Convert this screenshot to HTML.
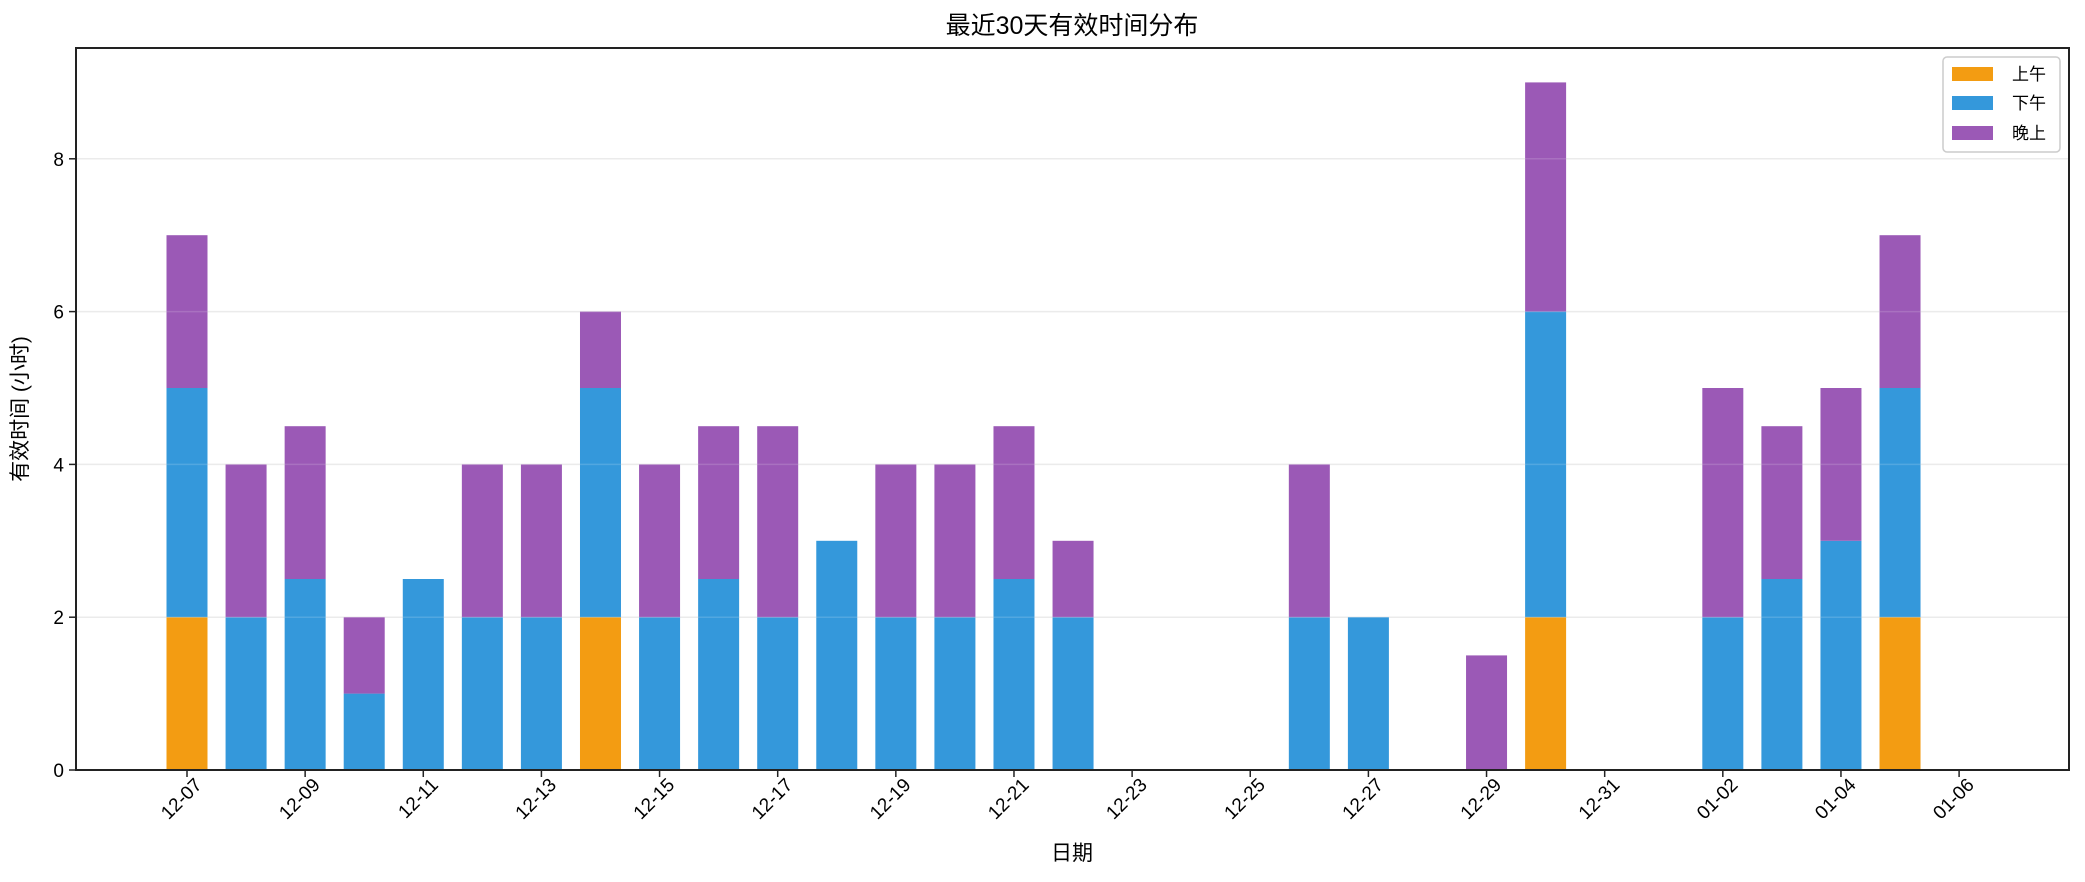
<!DOCTYPE html>
<html><head><meta charset="utf-8"><style>
html,body{margin:0;padding:0;background:#fff;}
svg{display:block;font-family:"Liberation Sans","Noto Sans CJK SC",sans-serif;}
</style></head><body>
<svg id="chart" width="2085" height="882" viewBox="0 0 2085 882">
<rect width="2085" height="882" fill="#fff"/>
<text x="1072" y="34" font-size="25" text-anchor="middle" fill="#000">最近30天有效时间分布</text>
<g id="grid"></g>
<g id="bars"></g>
<g id="gridtop"></g>
<rect x="76" y="48" width="1993" height="722" fill="none" stroke="#222" stroke-width="2"/>
<g id="axes"></g>
<text transform="translate(27,409) rotate(-90)" font-size="21" text-anchor="middle" fill="#000">有效时间 (小时)</text>
<text x="1072" y="860" font-size="21" text-anchor="middle" fill="#000">日期</text>
<g>
<rect x="1943" y="57" width="117" height="95" rx="4" fill="#fff" fill-opacity="0.8" stroke="#ccc" stroke-width="1.5"/>
<rect x="1952" y="67" width="41" height="14" fill="#f39c12"/>
<text x="2012" y="80" font-size="17">上午</text>
<rect x="1952" y="96" width="41" height="14" fill="#3498db"/>
<text x="2012" y="109" font-size="17">下午</text>
<rect x="1952" y="126" width="41" height="14" fill="#9b59b6"/>
<text x="2012" y="139" font-size="17">晚上</text>
</g>
</svg>
<script>
const dates = ["12-07","12-08","12-09","12-10","12-11","12-12","12-13","12-14","12-15","12-16","12-17","12-18","12-19","12-20","12-21","12-22","12-23","12-24","12-25","12-26","12-27","12-28","12-29","12-30","12-31","01-01","01-02","01-03","01-04","01-05"];
const morning   = [2,0,0,0,0,0,0,2,0,0,0,0,0,0,0,0,0,0,0,0,0,0,0,2,0,0,0,0,0,2];
const afternoon = [3,2,2.5,1,2.5,2,2,3,2,2.5,2,3,2,2,2.5,2,0,0,0,2,2,0,0,4,0,0,2,2.5,3,3];
const evening   = [2,2,2,1,0,2,2,1,2,2,2.5,0,2,2,2,1,0,0,0,2,0,0,1.5,3,0,0,3,2,2,2];
const yTicks = [0,2,4,6,8];
const xTickLabels = ["12-07","12-09","12-11","12-13","12-15","12-17","12-19","12-21","12-23","12-25","12-27","12-29","12-31","01-02","01-04","01-06"];
const xTickDays = [0,2,4,6,8,10,12,14,16,18,20,22,24,26,28,30];

const NS="http://www.w3.org/2000/svg";
const x0=187, dayW=59.07, y0=770, unit=76.4, barW=41;
function xs(d){return x0+d*dayW;}
function ys(v){return y0-v*unit;}
function mk(tag,attrs,parent){const e=document.createElementNS(NS,tag);for(const k in attrs)e.setAttribute(k,attrs[k]);parent.appendChild(e);return e;}
const grid=document.getElementById('grid'),bars=document.getElementById('bars'),axes=document.getElementById('axes'),gt=document.getElementById('gridtop');
yTicks.forEach(t=>{
  if(t>0){
    const g=mk('line',{x1:76,x2:2069,y1:ys(t),y2:ys(t),stroke:'#e8e8e8','stroke-width':1.5},grid);
    
    
    const g2=mk('line',{x1:76,x2:2069,y1:ys(t),y2:ys(t),stroke:'rgba(255,255,255,0.15)','stroke-width':1.5},gt);
    
    
  }
  const tk=mk('line',{x1:69,x2:76,y1:ys(t),y2:ys(t),stroke:'#222','stroke-width':1.5},axes);
  
  
  const tx=mk('text',{x:64,y:ys(t)+7,'font-size':19,'text-anchor':'end'},axes);
  tx.textContent=t;
  
  
});
const series=[[morning,'#f39c12','morning'],[afternoon,'#3498db','afternoon'],[evening,'#9b59b6','evening']];
dates.forEach((d,i)=>{
  let base=0;
  series.forEach(([arr,col,nm])=>{
    const v=arr[i];
    if(v>0){
      const r=mk('rect',{x:xs(i)-barW/2,y:ys(base+v),width:barW,height:v*unit,fill:col},bars);
      
      
    }
    base+=v;
  });
});
xTickLabels.forEach((lab,i)=>{
  const x=xs(xTickDays[i]);
  const tk=mk('line',{x1:x,x2:x,y1:770,y2:777,stroke:'#222','stroke-width':1.5},axes);
  
  
  const ax=x+16, ay=786;
  const tx=mk('text',{x:ax,y:ay,'font-size':19,'text-anchor':'end',transform:`rotate(-45 ${ax} ${ay})`},axes);
  tx.textContent=lab;
  
  
});
</script>
</body></html>
